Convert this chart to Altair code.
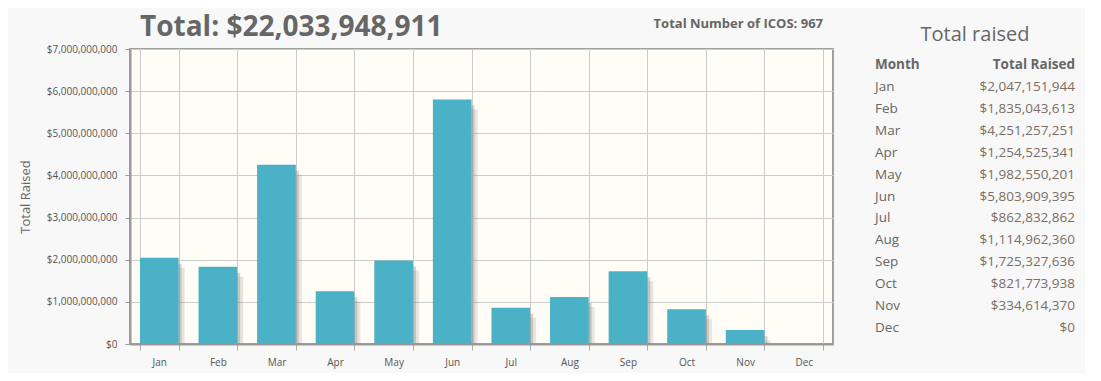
import altair as alt
import pandas as pd

months = ["Jan", "Feb", "Mar", "Apr", "May", "Jun", "Jul", "Aug", "Sep", "Oct", "Nov", "Dec"]
raised = [2047151944, 1835043613, 4251257251, 1254525341, 1982550201, 5803909395,
          862832862, 1114962360, 1725327636, 821773938, 334614370, 0]
icos_count = 967
y_ticks = [i * 1_000_000_000 for i in range(8)]

df = pd.DataFrame({"Month": months, "Raised": raised})
total = sum(raised)

FONT = "Open Sans"
TXT = "#666666"

x_enc = alt.X("Month:N", sort=months, title=None,
              scale=alt.Scale(paddingInner=0.34, paddingOuter=0.17),
              axis=alt.Axis(tickBand="extent", labelAngle=0, grid=True,
                            gridColor="#cccccc", tickColor="#aaaaaa", tickSize=6,
                            labelFont=FONT, labelFontSize=10, labelColor="#555555",
                            labelPadding=7, domainColor="#999999", domainWidth=2))
y_enc = alt.Y("Raised:Q", title="Total Raised",
              scale=alt.Scale(domain=[0, 7_000_000_000], nice=False),
              axis=alt.Axis(values=y_ticks, format="$,.0f", grid=True, gridColor="#cccccc",
                            tickColor="#999999", tickSize=5, labelFont=FONT, labelFontSize=10,
                            labelColor="#555555", labelPadding=8, domainColor="#999999",
                            domainWidth=2, titleFont=FONT, titleFontSize=13,
                            titleFontWeight="normal", titleColor=TXT, titlePadding=14))

base = alt.Chart(df).encode(x=x_enc, y=y_enc)

shadow1 = base.mark_bar(color="#888888", opacity=0.35, xOffset=3, yOffset=6, clip=True)
shadow2 = base.mark_bar(color="#888888", opacity=0.2, xOffset=6, yOffset=10, clip=True)
bars = base.mark_bar(color="#4ab1c6")

head_df = pd.DataFrame({"total": [f"Total: ${total:,}"],
                        "icos": [f"Total Number of ICOS: {icos_count}"]})
total_txt = alt.Chart(head_df).mark_text(
    align="left", baseline="alphabetic", font=FONT, fontSize=28, fontWeight="bold", color=TXT
).encode(text="total:N", x=alt.value(10), y=alt.value(-13))
icos = alt.Chart(head_df).mark_text(
    align="right", baseline="alphabetic", font=FONT, fontSize=13, fontWeight="bold", color=TXT
).encode(text="icos:N", x=alt.value(693), y=alt.value(-21))

main = alt.layer(shadow2, shadow1, bars, total_txt, icos).properties(
    width=703, height=295,
    view=alt.ViewBackground(fill="#fffdf6", stroke="#a0a0a0", strokeWidth=2),
)

# table
rows = ["Month"] + months
tab_df = pd.DataFrame({"Row": months, "Raised": raised})
th_df = pd.DataFrame({"Row": ["Month"], "a": ["Month"], "b": ["Total Raised"]})
y_tab = alt.Y("Row:N", sort=rows, axis=None,
              scale=alt.Scale(type="point", domain=rows, padding=0.73))

t_month = alt.Chart(tab_df).mark_text(align="left", font=FONT, fontSize=13.5, color=TXT).encode(
    y=y_tab, x=alt.value(0), text="Row:N")
t_val = alt.Chart(tab_df).mark_text(align="right", font=FONT, fontSize=13.5, color="#7a6e66").encode(
    y=y_tab, x=alt.value(200), text=alt.Text("Raised:Q", format="$,.0f"))
h_a = alt.Chart(th_df).mark_text(align="left", font=FONT, fontSize=13.5, fontWeight="bold",
                                 color=TXT).encode(y=y_tab, x=alt.value(0), text="a:N")
h_b = alt.Chart(th_df).mark_text(align="right", font=FONT, fontSize=13.5, fontWeight="bold",
                                 color=TXT).encode(y=y_tab, x=alt.value(200), text="b:N")
title_df = pd.DataFrame({"t": ["Total raised"]})
t_title = alt.Chart(title_df).mark_text(align="center", baseline="alphabetic", font=FONT,
                                        fontSize=20, color=TXT).encode(
    x=alt.value(100), y=alt.value(-8), text="t:N")

table = alt.layer(t_title, h_a, h_b, t_month, t_val).properties(
    width=200, height=295,
    view=alt.ViewBackground(fill="transparent", stroke="transparent", strokeWidth=0),
)

chart = alt.hconcat(main, table, spacing=41).properties(
    padding={"left": 10, "top": 5, "right": 10, "bottom": 5}
).configure(background="#f8f8f8")
chart.save("out.html", embed_options={"renderer": "svg", "actions": False})
